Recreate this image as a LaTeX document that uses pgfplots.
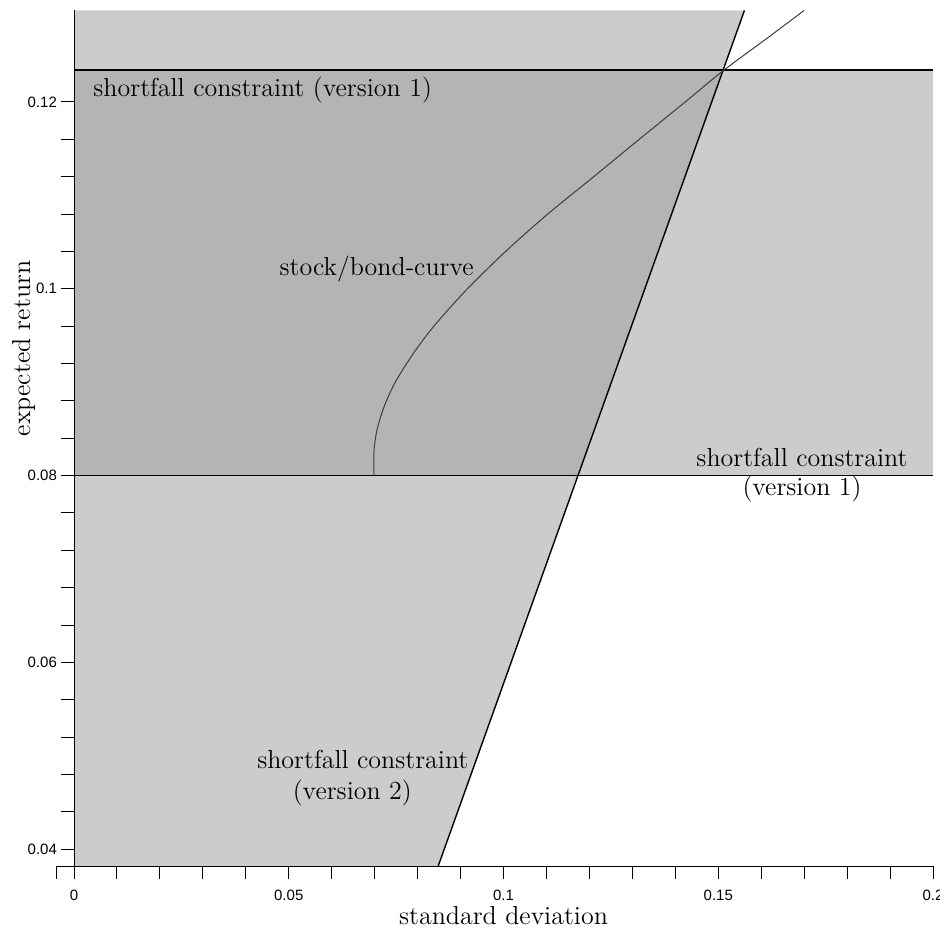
\documentclass[border=0pt]{standalone}
\usepackage{pgfplots}
\pgfplotsset{compat=1.18}
\usepackage{fontspec}
\newfontfamily\ticksans{Liberation Sans}
\definecolor{shadeA}{RGB}{204,204,204}
\definecolor{shadeB}{RGB}{180,180,180}
\definecolor{curvegray}{RGB}{60,60,60}

\begin{document}
\begin{tikzpicture}
\useasboundingbox (0,0) rectangle (470pt,-464pt);
\begin{axis}[
  at={(37pt,-433pt)}, anchor=south west,
  scale only axis, width=429.5pt, height=427.8pt,
  xmin=0, xmax=0.2, ymin=0.0382, ymax=0.1298,
  enlargelimits=false, clip=false,
  axis lines=left, axis line style={-, line width=0.5pt},
  axis on top,
  tick align=outside,
  major tick length=6.5pt, minor tick length=6.5pt,
  tick style={black, line width=0.5pt},
  xtick={0,0.05,0.1,0.15,0.2},
  xticklabels={0,0.05,0.1,0.15,0.2},
  ytick={0.04,0.06,0.08,0.1,0.12},
  yticklabels={0.04,0.06,0.08,0.1,0.12},
  minor x tick num=4, minor y tick num=4,
  scaled ticks=false,
  /pgf/number format/assume math mode=true,
  ticklabel style={font=\ticksans\fontsize{7.5pt}{8pt}\selectfont},
  xticklabel style={yshift=-2pt},
  yticklabel style={xshift=1.5pt},
  xlabel={standard deviation},
  ylabel={expected return},
  label style={font=\fontsize{13pt}{15pt}\selectfont},
  xlabel style={at={(axis description cs:0.5,0)}, anchor=base, yshift=-29pt},
  ylabel style={at={(axis description cs:-0.0512,0.605)}, anchor=base},
]
% region left of the version-2 constraint
\addplot[fill=shadeA, draw=none] coordinates {
  (0,0.0382) (0.0848,0.0382) (0.1561,0.1298) (0,0.1298)
} -- cycle;
% band between the two version-1 constraints
\addplot[fill=shadeA, draw=none] coordinates {
  (0,0.08) (0.2,0.08) (0.2,0.1234) (0,0.1234)
} -- cycle;
% feasible set of both constraints
\addplot[fill=shadeB, draw=none] coordinates {
  (0,0.08) (0.1174,0.08) (0.1513,0.1234) (0,0.1234)
} -- cycle;

% shortfall constraint, version 1
\addplot[black, line width=0.7pt] coordinates {(0,0.08) (0.2,0.08)};
\addplot[black, line width=0.7pt] coordinates {(0,0.1234) (0.2,0.1234)};
% shortfall constraint, version 2
\addplot[black, line width=0.7pt] coordinates {(0.0848,0.0382) (0.1561,0.1298)};

% stock/bond curve
\addplot[curvegray, line width=0.5pt, smooth, tension=0.5] coordinates {
  (0.0698,0.0800) (0.0698,0.0815) (0.0699,0.0830) (0.0706,0.0850)
  (0.0723,0.0875) (0.0748,0.0900) (0.0789,0.0930) (0.0838,0.0960)
  (0.0916,0.1000) (0.1005,0.1040) (0.1103,0.1080) (0.1210,0.1120)
  (0.1316,0.1160) (0.1423,0.1200) (0.1513,0.1234) (0.1619,0.1270)
  (0.1700,0.1298)
};

% short stub of the x axis left of the origin
\draw[line width=0.5pt] (axis cs:-0.004,0.0382) -- (axis cs:0,0.0382);
\draw[line width=0.5pt] (axis cs:-0.004,0.0382) -- ([yshift=-6.5pt]axis cs:-0.004,0.0382);

\begin{scope}[every node/.style={font=\fontsize{13pt}{15pt}\selectfont, inner sep=0pt}]
\node[anchor=base west] at (axis cs:0.00443,0.12062) {shortfall constraint (version 1)};
\node[anchor=base west] at (axis cs:0.0478,0.10146) {stock/bond-curve};
\node[anchor=base] at (axis cs:0.1695,0.08093) {shortfall constraint};
\node[anchor=base] at (axis cs:0.1695,0.0779) {(version 1)};
\node[anchor=base] at (axis cs:0.06725,0.04867) {shortfall constraint};
\node[anchor=base] at (axis cs:0.0648,0.04536) {(version 2)};
\end{scope}
\end{axis}
\end{tikzpicture}
\end{document}
